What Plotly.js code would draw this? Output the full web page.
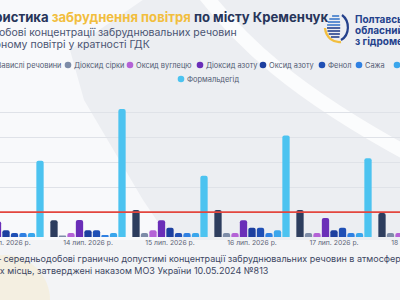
<!DOCTYPE html>
<html>
<head>
<meta charset="utf-8">
<script src="https://cdn.plot.ly/plotly-3.0.1.min.js"></script>
<style>
  html, body { margin: 0; padding: 0; width: 400px; height: 300px; overflow: hidden; background: #eceef2; }
  #chart { position: absolute; left: -60px; top: 0; width: 560px; height: 300px; }
</style>
</head>
<body>
<div id="chart"></div>
<script>
// ---- data: daily concentrations as multiples of the limit value (ГДК) ----
const categories = ['13 лип. 2026 р.', '14 лип. 2026 р.', '15 лип. 2026 р.', '16 лип. 2026 р.', '17 лип. 2026 р.', '18 лип. 2026 р.'];
const seriesNames = ['Завислі речовини', 'Діоксид сірки', 'Оксид вуглецю', 'Діоксид азоту', 'Оксид азоту', 'Фенол', 'Сажа', 'Аміак', 'Формальдегід'];

const zavysliRechovyny = [null, 0.67, 1.08, 1.08, 1.08, 0.96];
const dioksydSirky     = [null, 0.06, 0.16, 0.16, 0.16, 0.16];
const oksydVugletsiu   = [null, 0.16, 0.27, 0.16, 0.16, 0.16];
const dioksydAzotu     = [0.63, 0.68, 0.67, 0.67, 0.76, null];
const oksydAzotu       = [0.27, 0.27, 0.37, 0.37, 0.27, null];
const fenol            = [0.16, 0.27, 0.16, 0.37, 0.37, null];
const sazha            = [0.16, 0.08, 0.16, 0.16, 0.16, null];
const amiak            = [0.16, 0.16, 0.16, 0.27, 0.16, null];
const formaldehid      = [3.06, 5.14, 2.46, 4.07, 3.16, null];

const gdkLevel = 1;

const titleText = ['Характеристика ', 'забруднення повітря', ' по місту Кременчук'];
const subtitleLines = ['Середньодобові концентрації забруднювальних речовин', 'в атмосферному повітрі у кратності ГДК'];
const footnotePrefix = 'ГДК с.д. – ';
const footnoteLines = [footnotePrefix + 'середньодобові гранично допустимі концентрації забруднювальних речовин в атмосферному повітрі',
                       'населених місць, затверджені наказом МОЗ України 10.05.2024 №813'];
const orgLines = ['Полтавський', 'обласний центр', 'з гідрометеорології'];

// ---- styling ----
const seriesValues = [zavysliRechovyny, dioksydSirky, oksydVugletsiu, dioksydAzotu, oksydAzotu, fenol, sazha, amiak, formaldehid];
const seriesColors = ['#2d3d5e', '#7d8ca8', '#b462d6', '#6a2eb8', '#1c3f9f', '#1f4fb5', '#2f80e2', '#3aa6ec', '#4cc3f0'];
const FONT = 'Inter, "Open Sans", sans-serif';

// figure geometry (the figure is wider than the window and shifted left)
const OFF = 60, W = 560, H = 300, ML = 25, MR = 43, MT = 100, MB = 63;
const PW = W - ML - MR, PH = H - MT - MB;
const fx = px => (px + OFF - ML) / PW;   // window x -> paper x
const fy = py => (H - MB - py) / PH;     // window y -> paper y

const ctx = document.createElement('canvas').getContext('2d');
function textWidth(str, size, weight) {
  ctx.font = (weight || 400) + ' ' + size + 'px Inter';
  return ctx.measureText(str).width;
}

// ---- bars ----
const traces = seriesValues.map((vals, i) => ({
  type: 'bar',
  x: categories,
  y: vals,
  name: seriesNames[i],
  marker: { color: seriesColors[i], line: { width: 0 } },
  hoverinfo: 'skip'
}));

const shapes = [];
const annotations = [];

// ---- background decoration ----
function poly(points) {
  return points.map((p, k) => (k ? 'L' : 'M') + fx(p[0]) + ',' + fy(p[1])).join(' ') + ' Z';
}
shapes.push({
  type: 'path', xref: 'paper', yref: 'paper', layer: 'below',
  path: poly([[-60, -5], [150, -5], [70, 50], [84, 100], [143, 200], [170, 240], [-60, 240]]),
  fillcolor: '#f8f9fb', line: { width: 0 }
});
shapes.push({
  type: 'rect', xref: 'paper', yref: 'paper', layer: 'below',
  x0: fx(-60), x1: fx(460), y0: fy(240), y1: fy(305),
  fillcolor: '#f3f4f6', line: { width: 0 }
});
shapes.push({
  type: 'circle', xref: 'paper', yref: 'paper', layer: 'below',
  x0: fx(-40), x1: fx(50), y0: fy(255), y1: fy(345),
  fillcolor: 'rgba(250,222,150,0.22)', line: { width: 0 }
});
shapes.push({
  type: 'path', xref: 'paper', yref: 'paper', layer: 'below',
  path: 'M' + fx(205) + ',' + fy(-5) + ' C' + fx(240) + ',' + fy(40) + ' ' + fx(290) + ',' + fy(90) + ' ' + fx(410) + ',' + fy(155),
  line: { color: 'rgba(255,255,255,0.8)', width: 14 }
});

// ---- limit line ----
shapes.push({
  type: 'line', xref: 'paper', x0: 0, x1: 1, yref: 'y', y0: gdkLevel, y1: gdkLevel,
  line: { color: '#e3463e', width: 1.6 }, layer: 'above'
});

// ---- title block ----
annotations.push({
  xref: 'paper', yref: 'paper', x: fx(328), y: fy(17), xanchor: 'right', yanchor: 'middle',
  showarrow: false, borderpad: 0, borderwidth: 0,
  text: '<b>' + titleText[0] + '<span style="color:#f2be3e">' + titleText[1] + '</span>' + titleText[2] + '</b>',
  font: { family: FONT, size: 13.1, color: '#27355a' }
});
const SUB_SIZE = 10.5;
const subLeft = 237 - textWidth(subtitleLines[0], SUB_SIZE);
subtitleLines.forEach((line, k) => annotations.push({
  xref: 'paper', yref: 'paper', x: fx(subLeft), y: fy(32.5 + k * 12), xanchor: 'left', yanchor: 'middle',
  showarrow: false, borderpad: 0, borderwidth: 0, text: line,
  font: { family: FONT, size: SUB_SIZE, color: '#4a5472' }
}));

// ---- organisation block ----
orgLines.forEach((line, k) => annotations.push({
  xref: 'paper', yref: 'paper', x: fx(355), y: fy(19 + k * 11), xanchor: 'left', yanchor: 'middle',
  showarrow: false, borderpad: 0, borderwidth: 0, text: '<b>' + line + '</b>',
  font: { family: FONT, size: 10, color: '#24418c' }
}));
// emblem: striped disc with a yellow swoosh
const ecx = 338, ecy = 27, er = 13;
for (let yy = ecy - 11; yy <= ecy + 11; yy += 3) {
  const hw = Math.sqrt(er * er - (yy - ecy) * (yy - ecy)) * 0.85;
  shapes.push({
    type: 'line', xref: 'paper', yref: 'paper',
    x0: fx(ecx - hw), x1: fx(ecx + hw * 0.2), y0: fy(yy), y1: fy(yy),
    line: { color: yy < ecy ? '#3b78c9' : '#24418c', width: 1.6 }
  });
}
shapes.push({
  type: 'path', xref: 'paper', yref: 'paper',
  path: 'M' + fx(ecx + 4) + ',' + fy(ecy - 12) + ' C' + fx(ecx + 12) + ',' + fy(ecy - 6) + ' ' + fx(ecx + 12) + ',' + fy(ecy + 8) + ' ' + fx(ecx + 3) + ',' + fy(ecy + 13),
  line: { color: '#24418c', width: 2.2 }
});
shapes.push({
  type: 'path', xref: 'paper', yref: 'paper',
  path: 'M' + fx(ecx - 13) + ',' + fy(ecy + 1) + ' C' + fx(ecx - 12) + ',' + fy(ecy + 11) + ' ' + fx(ecx - 4) + ',' + fy(ecy + 16) + ' ' + fx(ecx + 3) + ',' + fy(ecy + 15),
  line: { color: '#f2be3e', width: 2.4 }
});

// ---- legend: two rows of dot + label entries ----
const LEG_SIZE = 7.4, LEG_R = 3.3, LEG_TXT = 6;
const legendRows = [
  { y: 65, items: [0, 1, 2, 3, 4, 5, 6, 7], dots: [-9, 68, 130, 200, 263, 322, 359, 397] },
  { y: 79, items: [8], dots: [181] }
];
legendRows.forEach(row => {
  row.items.forEach((i, k) => {
    const mx = row.dots[k];
    shapes.push({
      type: 'circle', xref: 'paper', yref: 'paper', xsizemode: 'pixel', ysizemode: 'pixel',
      xanchor: fx(mx), yanchor: fy(row.y), x0: -LEG_R, x1: LEG_R, y0: -LEG_R, y1: LEG_R,
      fillcolor: seriesColors[i], line: { width: 0 }
    });
    annotations.push({
      xref: 'paper', yref: 'paper', x: fx(mx + LEG_TXT), y: fy(row.y), xanchor: 'left', yanchor: 'middle',
      showarrow: false, borderpad: 0, borderwidth: 0, text: seriesNames[i],
      font: { family: FONT, size: LEG_SIZE, color: '#515a72' }
    });
  });
});

// ---- footnote ----
const FOOT_SIZE = 9;
const footLeft = 3 - textWidth(footnotePrefix, FOOT_SIZE);
footnoteLines.forEach((line, k) => annotations.push({
  xref: 'paper', yref: 'paper', x: fx(footLeft), y: fy(258 + k * 12), xanchor: 'left', yanchor: 'middle',
  showarrow: false, borderpad: 0, borderwidth: 0, text: line,
  font: { family: FONT, size: FOOT_SIZE, color: '#3d4763' }
}));

const layout = {
  width: W, height: H,
  margin: { l: ML, r: MR, t: MT, b: MB, pad: 0 },
  paper_bgcolor: '#eceef2',
  plot_bgcolor: 'rgba(0,0,0,0)',
  showlegend: false,
  barmode: 'group',
  bargap: 0.067,
  bargroupgap: 0.14,
  barcornerradius: 2,
  font: { family: FONT },
  xaxis: {
    type: 'category', range: [-0.5, 5.5], fixedrange: true,
    showgrid: false, zeroline: false, showline: false, ticks: '',
    tickfont: { family: FONT, size: 6.8, color: '#5d6478' }, automargin: false
  },
  yaxis: {
    range: [0, 5.5], tickmode: 'array', tickvals: [1, 2, 3, 4, 5], fixedrange: true,
    showgrid: true, gridcolor: '#dfe2e8', gridwidth: 1, zeroline: false,
    showticklabels: false, automargin: false
  },
  shapes: shapes,
  annotations: annotations
};

Plotly.newPlot('chart', traces, layout, { staticPlot: true, displayModeBar: false });
</script>
</body>
</html>
